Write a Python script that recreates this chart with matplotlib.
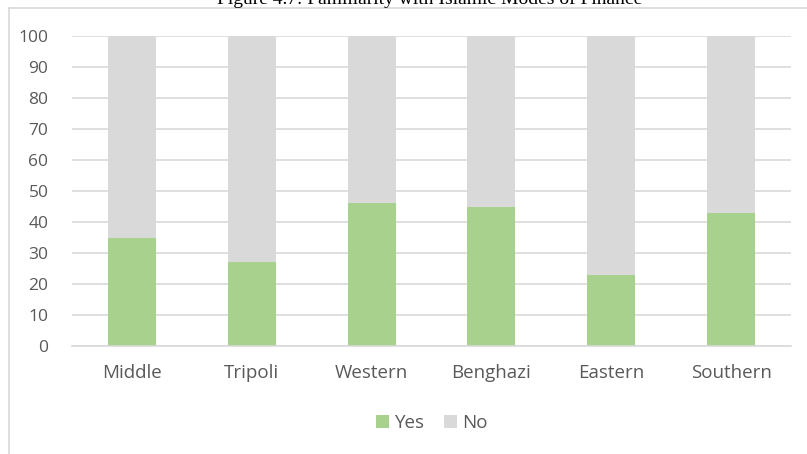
import matplotlib.pyplot as plt
import numpy as np
from matplotlib.lines import Line2D

regions = ["Middle", "Tripoli", "Western", "Benghazi", "Eastern", "Southern"]
yes = [35, 27, 46, 45, 23, 43]
no = [65, 73, 54, 55, 77, 57]

GREEN = "#A9D18E"
GREY = "#D9D9D9"
TEXT = "#595959"

W, H = 807, 454
fig = plt.figure(figsize=(W / 100, H / 100), dpi=100)

# axes placed in pixel terms
ax = fig.add_axes([72 / W, (H - 346) / H, (791 - 72) / W, (346 - 36) / H])

x = np.arange(len(regions))
ax.bar(x, yes, width=0.4, color=GREEN, label="Yes", zorder=2)
ax.bar(x, no, width=0.4, bottom=yes, color=GREY, label="No", zorder=2)

ax.set_xlim(-0.5, len(regions) - 0.5)
ax.set_ylim(0, 100)
ax.set_yticks(range(0, 101, 10))
ax.grid(axis="y", color=GREY, linewidth=1.2, zorder=0)
ax.set_axisbelow(True)
for side in ["top", "right", "left"]:
    ax.spines[side].set_visible(False)
ax.spines["bottom"].set_color(GREY)
ax.spines["bottom"].set_linewidth(1.2)
ax.tick_params(axis="y", length=0, colors=TEXT, labelsize=12.5, pad=17)
ax.tick_params(axis="x", length=0, colors=TEXT, labelsize=13.5, pad=13)
ax.set_xticks(x)
ax.set_xticklabels(regions)
for lbl in ax.get_xticklabels() + ax.get_yticklabels():
    lbl.set_family("Open Sans")
    lbl.set_color(TEXT)

fig.legend(loc="center", bbox_to_anchor=(432 / W, 1 - 423 / H), ncol=2, frameon=False,
           handlelength=0.7, handleheight=0.7, handletextpad=0.3, columnspacing=1.0,
           prop={"family": "Open Sans", "size": 13.5}, labelcolor=TEXT)

# chart frame (cropped on the right and bottom)
fig.add_artist(Line2D([8.5 / W, 8.5 / W], [0, 1 - 7.5 / H], color=GREY, lw=1.2))
fig.add_artist(Line2D([8.5 / W, 1], [1 - 7.5 / H, 1 - 7.5 / H], color=GREY, lw=1.2))

# caption above the chart, cut off by the top edge
fig.text(430 / W, 1 - 4 / H, "Figure 4.7: Familiarity with Islamic Modes of Finance",
         ha="center", va="baseline", family="Liberation Serif", fontsize=14)

fig.savefig("out.png", dpi=100)
